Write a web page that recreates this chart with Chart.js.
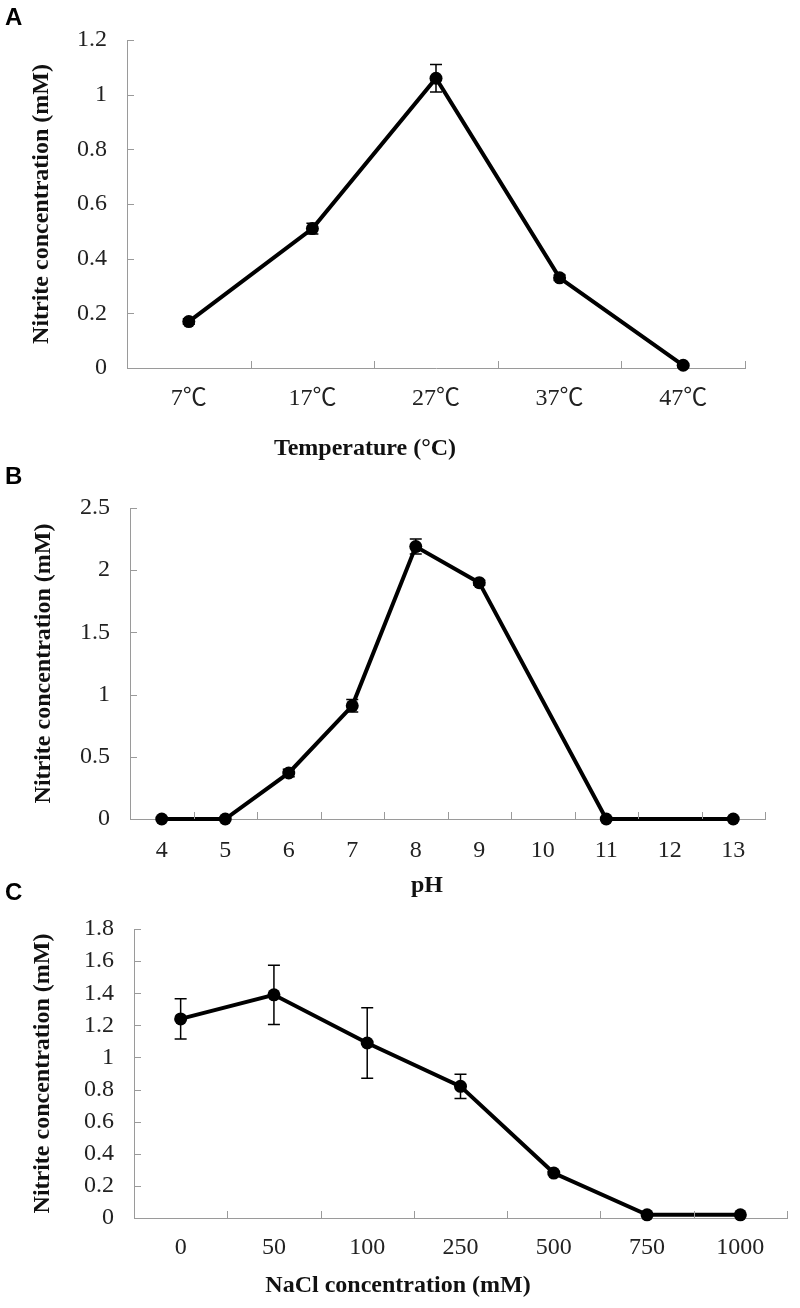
<!DOCTYPE html>
<html><head><meta charset="utf-8">
<script src="https://cdn.jsdelivr.net/npm/chart.js@4.4.0/dist/chart.umd.min.js"></script>
<style>
body{margin:0;background:#fff;width:800px;height:1308px;position:relative;overflow:hidden;}
canvas{position:absolute;left:0;}
.panel{position:absolute;left:5px;font:bold 24px "Liberation Sans",Arial,sans-serif;color:#000;line-height:24px;z-index:2;}
.xt{position:absolute;width:400px;text-align:center;font:bold 24px "Liberation Serif","Times New Roman",serif;color:#111;line-height:30px;z-index:2;}
</style></head>
<body>
<div class="panel" style="top:5px">A</div>
<div class="panel" style="top:464px">B</div>
<div class="panel" style="top:880px">C</div>
<canvas id="cA" width="800" height="425" style="top:0px"></canvas>
<canvas id="cB" width="800" height="440" style="top:440px"></canvas>
<canvas id="cC" width="800" height="428" style="top:880px"></canvas>
<div class="xt" style="left:165px;top:432px">Temperature (°C)</div>
<div class="xt" style="left:227px;top:869px">pH</div>
<div class="xt" style="left:198px;top:1269px">NaCl concentration (mM)</div>
<script>
// ---- data ----
const tempLabels = ['7℃','17℃','27℃','37℃','47℃'];
const tempValues = [0.17, 0.51, 1.06, 0.33, 0.01];
const tempErrors = [0.01, 0.02, 0.05, 0.01, 0.005];
const tempYTicks = [0, 0.2, 0.4, 0.6, 0.8, 1, 1.2];

const phLabels = ['4','5','6','7','8','9','10','11','12','13'];
const phValues = [0, 0, 0.37, 0.91, 2.19, 1.90, null, 0, null, 0];
const phErrors = [0, 0, 0.03, 0.05, 0.06, 0.02, null, 0, null, 0];
const phYTicks = [0, 0.5, 1, 1.5, 2, 2.5];

const naclLabels = ['0','50','100','250','500','750','1000'];
const naclValues = [1.24, 1.39, 1.09, 0.82, 0.28, 0.02, 0.02];
const naclErrors = [0.125, 0.185, 0.22, 0.075, 0.01, 0, 0];
const naclYTicks = [0, 0.2, 0.4, 0.6, 0.8, 1, 1.2, 1.4, 1.6, 1.8];

const yTitle = 'Nitrite concentration (mM)';
const SERIF = '"Liberation Serif","Times New Roman","Noto Sans CJK SC",serif';
const AXIS_COLOR = '#9a9a9a';

// inward tick marks
const inwardTicks = {
  id: 'inwardTicks',
  afterDatasetsDraw(chart) {
    const ctx = chart.ctx, a = chart.chartArea;
    const xs = chart.scales.x, ys = chart.scales.y;
    ctx.save();
    ctx.strokeStyle = AXIS_COLOR; ctx.lineWidth = 1;
    ctx.beginPath();
    ys.ticks.forEach(t => {
      const y = Math.round(ys.getPixelForValue(t.value)) + 0.5;
      ctx.moveTo(a.left, y); ctx.lineTo(a.left + 7, y);
    });
    const n = xs.ticks.length;
    for (let i = 0; i <= n; i++) {
      const x = Math.round(a.left + i * (a.right - a.left) / n) + 0.5;
      ctx.moveTo(x, a.bottom); ctx.lineTo(x, a.bottom - 7);
    }
    ctx.stroke();
    ctx.restore();
  }
};

// error bars
const errorBars = {
  id: 'errorBars',
  afterDatasetsDraw(chart, args, opts) {
    const errs = opts.errors; if (!errs) return;
    const ctx = chart.ctx, ys = chart.scales.y;
    const ds = chart.data.datasets[0];
    const meta = chart.getDatasetMeta(0);
    ctx.save();
    ctx.strokeStyle = '#000'; ctx.lineWidth = 1.5;
    meta.data.forEach((pt, i) => {
      const v = ds.data[i], e = errs[i];
      if (v == null || !e) return;
      const yt = ys.getPixelForValue(v + e), yb = ys.getPixelForValue(v - e);
      ctx.beginPath();
      ctx.moveTo(pt.x, yt); ctx.lineTo(pt.x, yb);
      ctx.moveTo(pt.x - 6, yt); ctx.lineTo(pt.x + 6, yt);
      ctx.moveTo(pt.x - 6, yb); ctx.lineTo(pt.x + 6, yb);
      ctx.stroke();
    });
    ctx.restore();
  }
};

function makeChart(id, labels, values, errors, yTicks, yMax, geom) {
  new Chart(document.getElementById(id), {
    type: 'line',
    data: {
      labels: labels,
      datasets: [{
        data: values,
        borderColor: '#000',
        backgroundColor: '#000',
        borderWidth: 4,
        pointRadius: 6.5,
        pointBorderWidth: 0,
        pointBackgroundColor: '#000',
        spanGaps: true,
        tension: 0,
        clip: false
      }]
    },
    options: {
      responsive: false,
      animation: false,
      events: [],
      layout: { padding: { top: geom.top, right: geom.right, left: 0, bottom: 0 } },
      plugins: {
        legend: { display: false },
        tooltip: { enabled: false },
        errorBars: { errors: errors }
      },
      scales: {
        x: {
          type: 'category',
          offset: true,
          grid: { display: true, drawOnChartArea: false, drawTicks: false, color: AXIS_COLOR },
          border: { display: true, color: AXIS_COLOR, width: 1 },
          ticks: { autoSkip: false, maxRotation: 0, padding: geom.xPad, color: '#222',
                   font: { family: SERIF, size: 24 } },
          afterFit: s => { s.height = geom.xh; }
        },
        y: {
          min: 0, max: yMax,
          grid: { display: true, drawOnChartArea: false, drawTicks: false, color: AXIS_COLOR },
          border: { display: true, color: AXIS_COLOR, width: 1 },
          afterBuildTicks: s => { s.ticks = yTicks.map(v => ({ value: v })); },
          ticks: { padding: 20, color: '#222', font: { family: SERIF, size: 24 },
                   callback: v => String(v) },
          title: { display: true, text: yTitle, color: '#111',
                   font: { family: SERIF, size: 24, weight: 'bold', lineHeight: 1.2 },
                   padding: { top: geom.tPad, bottom: 0 } },
          afterFit: s => { s.width = geom.yw; }
        }
      }
    },
    plugins: [inwardTicks, errorBars]
  });
}

makeChart('cA', tempLabels, tempValues, tempErrors, tempYTicks, 1.2,
  { top: 40, right: 55, xh: 57, yw: 127, xPad: 16, tPad: 27.6 });
makeChart('cB', phLabels, phValues, phErrors, phYTicks, 2.5,
  { top: 68, right: 35, xh: 61, yw: 130, xPad: 17, tPad: 29.6 });
makeChart('cC', naclLabels, naclValues, naclErrors, naclYTicks, 1.8,
  { top: 49, right: 13, xh: 90, yw: 134, xPad: 15, tPad: 28.6 });
</script>
</body></html>
